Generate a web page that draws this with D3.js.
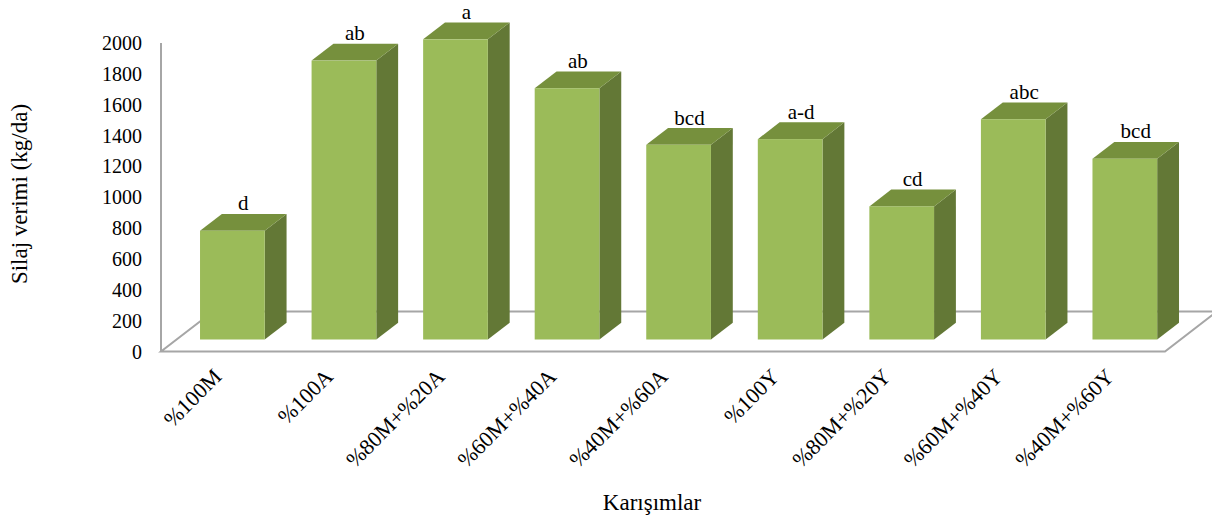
<!DOCTYPE html>
<html>
<head>
<meta charset="utf-8">
<script src="https://cdn.jsdelivr.net/npm/d3@7"></script>
<style>
  html, body { margin: 0; padding: 0; background: #ffffff; }
  svg { display: block; }
</style>
</head>
<body>
<svg id="chart" width="1212" height="519"></svg>
<script>
// Silage yield by mixture (kg/da) with significance groups
const categories = ["%100M", "%100A", "%80M+%20A", "%60M+%40A", "%40M+%60A",
                    "%100Y", "%80M+%20Y", "%60M+%40Y", "%40M+%60Y"];
const yieldValues = [705, 1808, 1946, 1629, 1262, 1299, 863, 1428, 1172];
const groupLetters = ["d", "ab", "a", "ab", "bcd", "a-d", "cd", "abc", "bcd"];
const yTicks = [0, 200, 400, 600, 800, 1000, 1200, 1400, 1600, 1800, 2000];

const FONT = "'Liberation Serif', Tinos, 'Times New Roman', 'DejaVu Serif', serif";

const svg = d3.select("#chart")
  .attr("font-family", FONT)
  .style("font-family", FONT);

// front plane of the plot and oblique depth vector of the floor
const left = 161, right = 1165;
const depth = { dx: 52, dy: -40 };
const barFront = 0.3, barBack = 0.72;   // bar depth as fractions of floor depth

const x = d3.scaleBand().domain(categories).range([left, right])
  .paddingInner(0.42).paddingOuter(0.21);
const y = d3.scaleLinear().domain([0, 2000]).range([351.5, 43]);

const shift = f => [depth.dx * f, depth.dy * f];

// floor outline
const floorColor = "#a6a6a6";
const y0 = y(0);
const floorPts = [
  [left, y0], [right, y0],
  [right + depth.dx, y0 + depth.dy], [left + depth.dx, y0 + depth.dy]
];
svg.append("path")
  .attr("d", d3.line()(floorPts) + "Z")
  .attr("fill", "none")
  .attr("stroke", floorColor)
  .attr("stroke-width", 2);

// value axis line
svg.append("line")
  .attr("x1", left).attr("x2", left)
  .attr("y1", y(2000)).attr("y2", y(0))
  .attr("stroke", floorColor).attr("stroke-width", 2);

// tick labels
svg.append("g").selectAll("text").data(yTicks).join("text")
  .attr("x", 142)
  .attr("y", d => y(d))
  .attr("text-anchor", "end")
  .attr("dominant-baseline", "central")
  .attr("font-family", FONT)
  .attr("font-size", 20)
  .text(d => d);

// bars: side, top and front faces
const [fx, fy] = shift(barFront);
const [bx, by] = shift(barBack);
const bw = x.bandwidth();

const bars = svg.append("g").selectAll("g")
  .data(categories.map((c, i) => ({ c, v: yieldValues[i], g: groupLetters[i] })))
  .join("g");

bars.each(function (d) {
  const g = d3.select(this);
  const xl = x(d.c) + fx, xr = xl + bw;
  const yb = y(0) + fy, yt = y(d.v) + fy;
  const ox = bx - fx, oy = by - fy;
  // side face
  g.append("path")
    .attr("d", d3.line()([[xr, yb], [xr + ox, yb + oy], [xr + ox, yt + oy], [xr, yt]]) + "Z")
    .attr("fill", "#637836");
  // top face
  g.append("path")
    .attr("d", d3.line()([[xl, yt], [xr, yt], [xr + ox, yt + oy], [xl + ox, yt + oy]]) + "Z")
    .attr("fill", "#76903d");
  // front face
  g.append("rect")
    .attr("x", xl).attr("y", yt)
    .attr("width", bw).attr("height", yb - yt)
    .attr("fill", "#9bbb59");
  // significance letters
  g.append("text")
    .attr("x", xl + bw / 2 + ox / 2)
    .attr("y", yt + oy - 3.5)
    .attr("text-anchor", "middle")
    .attr("font-family", FONT)
    .attr("font-size", 21)
    .text(d.g);
});

// category labels, rotated
svg.append("g").selectAll("text").data(categories).join("text")
  .attr("text-anchor", "end")
  .attr("font-family", FONT)
  .attr("font-size", 22)
  .attr("transform", d => `translate(${x(d) + x.bandwidth() / 2 + 6},378) rotate(-45)`)
  .text(d => d);

// axis titles
svg.append("text")
  .attr("transform", "translate(27,194) rotate(-90)")
  .attr("text-anchor", "middle")
  .attr("font-family", FONT)
  .attr("font-size", 23)
  .text("Silaj verimi (kg/da)");

svg.append("text")
  .attr("x", 652).attr("y", 510)
  .attr("text-anchor", "middle")
  .attr("font-family", FONT)
  .attr("font-size", 23)
  .text("Karışımlar");
</script>
</body>
</html>
